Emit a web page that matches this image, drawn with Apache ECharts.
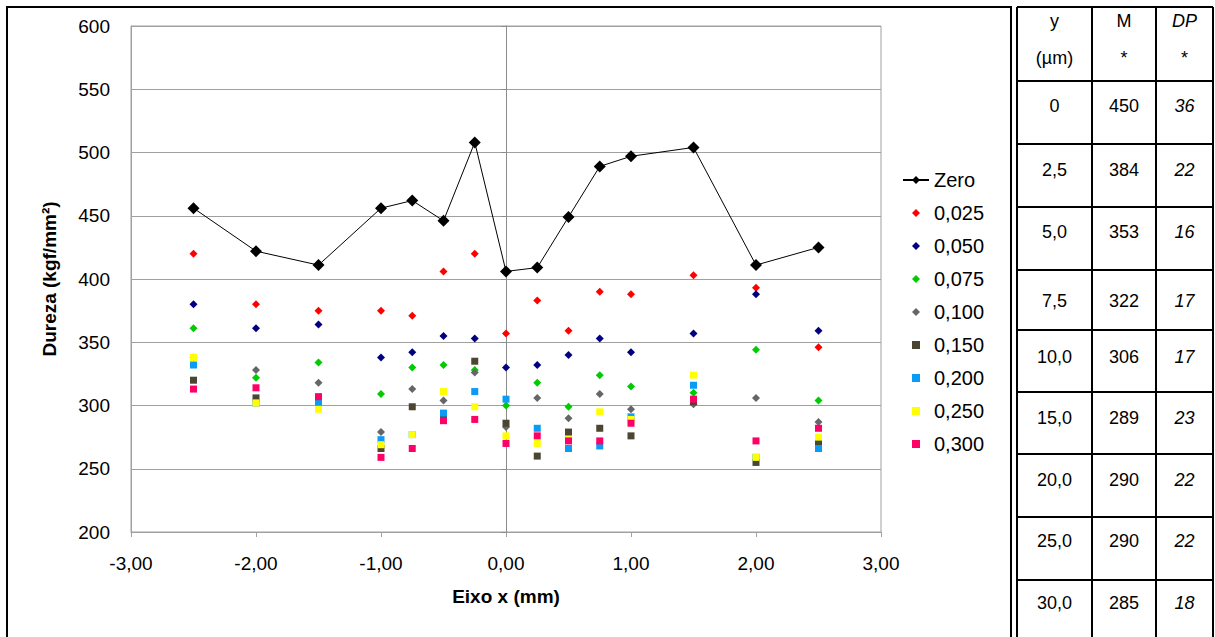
<!DOCTYPE html>
<html>
<head>
<meta charset="utf-8">
<script src="https://cdn.jsdelivr.net/npm/echarts@6/dist/echarts.min.js"></script>
<style>
html,body{margin:0;padding:0;background:#fff;}
#chart{width:1215px;height:637px;}
</style>
</head>
<body>
<div id="chart"></div>
<script>
// ---- data ----
const xPositions = [-2.5, -2, -1.5, -1, -0.75, -0.5, -0.25, 0, 0.25, 0.5, 0.75, 1, 1.5, 2, 2.5];
const seriesNames = ['Zero', '0,025', '0,050', '0,075', '0,100', '0,150', '0,200', '0,250', '0,300'];
const zero  = [456, 422, 411, 456, 462, 446, 508, 406, 409, 449, 489, 497, 504, 411, 425];
const s025  = [420, 380, 375, 375, 371, 406, 420, 357, 383, 359, 390, 388, 403, 393, 346];
const s050  = [380, 361, 364, 338, 342, 355, 353, 330, 332, 340, 353, 342, 357, 388, 359];
const s075  = [361, 322, 334, 309, 330, 332, 328, 300, 318, 299, 324, 315, 310, 344, 304];
const s100  = [338, 328, 318, 279, 313, 304, 326, 283, 306, 290, 309, 297, 301, 306, 287];
const s150  = [320, 306, 304, 266, 299, 292, 335, 286, 260, 279, 282, 276, 303, 255, 270];
const s200  = [332, 302, 302, 273, 277, 294, 311, 305, 282, 266, 268, 291, 316, 259, 266];
const s250  = [338, 302, 297, 269, 277, 311, 299, 276, 270, 273, 295, 289, 324, 259, 275];
const s300  = [313, 314, 307, 259, 266, 288, 289, 270, 276, 272, 272, 286, 305, 272, 282];
const yTicks = {min: 200, max: 600, interval: 50};
const xTicks = {min: -3, max: 3, interval: 1};

const tableHeader = [['y', '(µm)'], ['M', '*'], ['DP', '*']];
const tableY  = ['0', '2,5', '5,0', '7,5', '10,0', '15,0', '20,0', '25,0', '30,0'];
const tableM  = ['450', '384', '353', '322', '306', '289', '290', '290', '285'];
const tableDP = ['36', '22', '16', '17', '17', '23', '22', '22', '18'];

// ---- styles ----
const FONT = "'Liberation Sans', Arial, sans-serif";
const colors = ['#000000', '#FF0000', '#000080', '#00CC00', '#666666', '#4B4632', '#0A9BF5', '#FFFF00', '#FF0066'];
const symbols = ['diamond', 'diamond', 'diamond', 'diamond', 'diamond', 'rect', 'rect', 'rect', 'rect'];
const sizes = [12, 8, 8, 8, 8, 7, 7, 7, 7];
const allValues = [zero, s025, s050, s075, s100, s150, s200, s250, s300];

function pairs(vals) { return xPositions.map((x, i) => [x, vals[i]]); }

const series = allValues.map((vals, k) => {
  if (k === 0) {
    return {
      name: seriesNames[k], type: 'line', data: pairs(vals),
      symbol: 'diamond', symbolSize: sizes[k],
      itemStyle: {color: colors[k]},
      lineStyle: {color: '#000', width: 1},
      animation: false, z: 2
    };
  }
  return {
    name: seriesNames[k], type: 'scatter', data: pairs(vals),
    symbol: symbols[k], symbolSize: sizes[k],
    itemStyle: {color: colors[k], opacity: 1},
    animation: false, z: 2 + k
  };
});

// ---- table graphics ----
const colX = [1017, 1092, 1156, 1213];
const rowY = [7, 81, 144, 207, 270, 330, 392, 454, 517, 580, 640];
const textCenters = [106, 170, 232, 301, 357, 418, 480, 541, 603];
const graphics = [];
graphics.push({type: 'rect', shape: {x: 7, y: 7, width: 1004, height: 640},
  style: {fill: 'none', stroke: '#000', lineWidth: 2}, silent: true});
colX.forEach(x => graphics.push({type: 'line', shape: {x1: x, y1: 7, x2: x, y2: 640},
  style: {stroke: '#000', lineWidth: 2}, silent: true}));
rowY.forEach(y => graphics.push({type: 'line', shape: {x1: colX[0], y1: y, x2: colX[3], y2: y},
  style: {stroke: '#000', lineWidth: 2}, silent: true}));
function txt(s, cx, cy, italic) {
  graphics.push({type: 'text', x: cx, y: cy, silent: true,
    style: {text: s, font: (italic ? 'italic ' : '') + '18px ' + FONT, fill: '#000',
      align: 'center', verticalAlign: 'middle', textAlign: 'center', textVerticalAlign: 'middle'}});
}
const colC = [(colX[0] + colX[1]) / 2, (colX[1] + colX[2]) / 2, (colX[2] + colX[3]) / 2];
tableHeader.forEach((h, c) => {
  txt(h[0], colC[c], 21, c === 2);
  txt(h[1], colC[c], 58, false);
});
tableY.forEach((v, r) => {
  txt(v, colC[0], textCenters[r], false);
  txt(tableM[r], colC[1], textCenters[r], false);
  txt(tableDP[r], colC[2], textCenters[r], true);
});

const legendText = {fontSize: 20, color: '#000', fontFamily: FONT, lineHeight: 22};

const chart = echarts.init(document.getElementById('chart'), null, {renderer: 'svg'});
chart.setOption({
  backgroundColor: '#fff',
  animation: false,
  textStyle: {fontFamily: FONT, color: '#000'},
  grid: {left: 131, right: 334, top: 26, bottom: 105, show: true, borderColor: '#A0A0A0', borderWidth: 1,
    containLabel: false, outerBoundsMode: 'none'},
  xAxis: {
    type: 'value', min: xTicks.min, max: xTicks.max, interval: xTicks.interval,
    name: 'Eixo x (mm)', nameLocation: 'middle', nameGap: 55,
    nameTextStyle: {fontWeight: 'bold', fontSize: 19, color: '#000', fontFamily: FONT},
    axisLine: {show: true, onZero: false, lineStyle: {color: '#A0A0A0'}},
    axisTick: {show: true, length: 5, lineStyle: {color: '#A0A0A0'}},
    axisLabel: {fontSize: 19, color: '#000', margin: 22, fontFamily: FONT,
      formatter: v => v.toFixed(2).replace('.', ',')},
    splitLine: {show: false}
  },
  yAxis: [{
    type: 'value', min: yTicks.min, max: yTicks.max, interval: yTicks.interval,
    name: 'Dureza (kgf/mm²)', nameLocation: 'middle', nameGap: 72,
    nameTextStyle: {fontWeight: 'bold', fontSize: 19, color: '#000', fontFamily: FONT},
    axisLine: {show: true, onZero: false, lineStyle: {color: '#A0A0A0'}},
    axisTick: {show: false},
    axisLabel: {fontSize: 19, color: '#000', margin: 21, fontFamily: FONT},
    splitLine: {show: true, lineStyle: {color: '#A0A0A0', width: 1}}
  }, {
    type: 'value', min: yTicks.min, max: yTicks.max, interval: yTicks.interval,
    position: 'left',
    axisLine: {show: true, onZero: true, lineStyle: {color: '#8C8C8C'}},
    axisTick: {show: true, length: 5, lineStyle: {color: '#8C8C8C'}},
    axisLabel: {show: false},
    splitLine: {show: false}
  }],
  legend: [{
    orient: 'vertical', left: 897, top: 164,
    itemWidth: 26, itemHeight: 10, itemGap: 11,
    textStyle: legendText,
    data: seriesNames.slice(0, 1)
  }, {
    orient: 'vertical', left: 907, top: 197,
    itemWidth: 8, itemHeight: 8, itemGap: 11,
    textStyle: Object.assign({padding: [0, 0, 0, 9]}, legendText),
    data: seriesNames.slice(1)
  }],
  graphic: graphics,
  series: series
});
</script>
</body>
</html>
